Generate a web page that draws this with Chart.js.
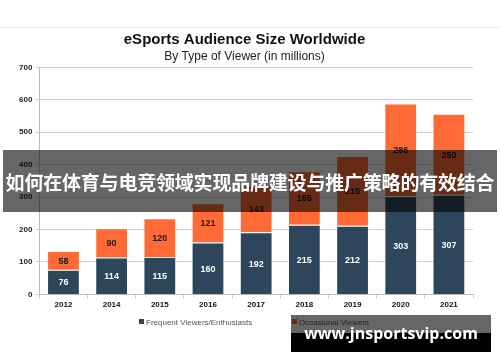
<!DOCTYPE html>
<html>
<head>
<meta charset="utf-8">
<script src="https://cdn.jsdelivr.net/npm/chart.js@4.4.0/dist/chart.umd.min.js"></script>
<style>
  html, body { margin: 0; padding: 0; background: #fff; }
  #wrap { position: relative; width: 500px; height: 362px; overflow: hidden; }
  #topline { position: absolute; left: 0; top: 27px; width: 500px; height: 1px; background: #e6e6e6; }
  #chartBox { position: absolute; left: 0; top: 28px; width: 500px; height: 334px; }
  .legend-item {
    position: absolute; top: 318px; height: 10px; line-height: 10px;
    font-family: "Liberation Sans", Arial, sans-serif; font-size: 8px; color: #555; white-space: nowrap;
  }
  .legend-item span { display: inline-block; width: 5px; height: 5px; margin-right: 2px; vertical-align: 1px; }
  #banner {
    position: absolute; left: 3px; top: 150px; width: 494px; height: 62px;
    background: rgba(0,0,0,0.6); color: #fff;
    font-family: "Noto Sans CJK SC", sans-serif; font-weight: bold; font-size: 19px;
    line-height: 64px; text-align: center; white-space: nowrap; letter-spacing: -0.2px;
  }
  #mark-top { position: absolute; left: 291px; top: 315px; width: 200px; height: 18px; background: rgba(0,0,0,0.6); }
  #mark-bot { position: absolute; left: 291px; top: 333px; width: 200px; height: 19px; background: #000; }
  #mark-text {
    position: absolute; left: 291px; top: 315px; width: 200px; height: 37px;
    color: #fff; font-family: "Open Sans", sans-serif; font-weight: bold; font-size: 16px;
    line-height: 36px; text-align: center; white-space: nowrap;
  }
</style>
</head>
<body>
<div id="wrap">
  <div id="topline"></div>
  <div id="chartBox"><canvas id="audienceChart"></canvas></div>
  <div id="legend"></div>
  <div id="banner">如何在体育与电竞领域实现品牌建设与推广策略的有效结合</div>
  <div id="mark-top"></div>
  <div id="mark-bot"></div>
  <div id="mark-text">www.jnsportsvip.com</div>
</div>
<script>
const years = ["2012", "2014", "2015", "2016", "2017", "2018", "2019", "2020", "2021"];
const frequentViewers = [76, 114, 115, 160, 192, 215, 212, 303, 307];
const occasionalViewers = [58, 90, 120, 121, 143, 165, 215, 286, 250];
const yTicks = [0, 100, 200, 300, 400, 500, 600, 700];
const seriesNames = ["Frequent Viewers/Enthusiasts", "Occasional Viewers"];

const navy = "#2d465c";
const orange = "#ff6a36";
const legendX = [139, 292];

// draws the value inside each bar segment
const barLabels = {
    id: "barLabels",
    afterDatasetsDraw(chart) {
        const ctx = chart.ctx;
        ctx.save();
        ctx.font = "bold 9px 'Liberation Sans', Arial, sans-serif";
        ctx.textAlign = "center";
        ctx.textBaseline = "middle";
        chart.data.datasets.forEach((ds, i) => {
            const meta = chart.getDatasetMeta(i);
            meta.data.forEach((bar, j) => {
                const mid = (bar.y + bar.base) / 2;
                ctx.fillStyle = i === 0 ? "#ffffff" : "#1a1a1a";
                ctx.fillText(ds.data[j], bar.x, mid + 1);
            });
        });
        ctx.restore();
    }
};

document.addEventListener("DOMContentLoaded", () => {
    const ctx = document.getElementById("audienceChart").getContext("2d");
    const chart = new Chart(ctx, {
        type: "bar",
        data: {
            labels: years,
            datasets: [
                { label: seriesNames[0], data: frequentViewers, backgroundColor: navy, borderColor: "rgba(255,255,255,0.5)", borderWidth: 1, barPercentage: 0.68, categoryPercentage: 1 },
                { label: seriesNames[1], data: occasionalViewers, backgroundColor: orange, borderColor: "rgba(255,255,255,0.5)", borderWidth: 1, barPercentage: 0.68, categoryPercentage: 1 }
            ]
        },
        options: {
            responsive: true,
            maintainAspectRatio: false,
            animation: false,
            layout: { padding: { left: 16, right: 27, top: 1, bottom: 50 } },
            plugins: {
                title: {
                    display: true,
                    text: "eSports Audience Size Worldwide",
                    color: "#111",
                    font: { family: "'Liberation Sans', Arial, sans-serif", size: 15, weight: "bold" },
                    padding: { top: 2, bottom: 0 }
                },
                subtitle: {
                    display: true,
                    text: "By Type of Viewer (in millions)",
                    color: "#222",
                    font: { family: "'Liberation Sans', Arial, sans-serif", size: 12 },
                    padding: { top: 0, bottom: 4 }
                },
                legend: { display: false },
                tooltip: { enabled: false }
            },
            scales: {
                x: {
                    stacked: true,
                    grid: { display: true, drawOnChartArea: false, offset: true, tickLength: 4, color: "#cccccc" },
                    border: { color: "#bbbbbb" },
                    ticks: { color: "#111", font: { family: "'Liberation Sans', Arial, sans-serif", size: 8, weight: "bold" }, padding: 2 }
                },
                y: {
                    stacked: true,
                    min: 0, max: 700,
                    afterBuildTicks: axis => { axis.ticks = yTicks.map(v => ({ value: v })); },
                    grid: { color: "#d0d0d0", tickLength: 4 },
                    border: { color: "#bbbbbb" },
                    ticks: { color: "#222", font: { family: "'Liberation Sans', Arial, sans-serif", size: 8, weight: "bold" }, padding: 3 }
                }
            }
        },
        plugins: [barLabels]
    });

    // simple legend laid out under the axis
    const legend = document.getElementById("legend");
    chart.data.datasets.forEach((ds, i) => {
        const item = document.createElement("div");
        item.className = "legend-item";
        item.style.left = legendX[i] + "px";
        item.innerHTML = `<span style="background:${ds.backgroundColor}"></span>${ds.label}`;
        legend.appendChild(item);
    });
});
</script>
</body>
</html>
